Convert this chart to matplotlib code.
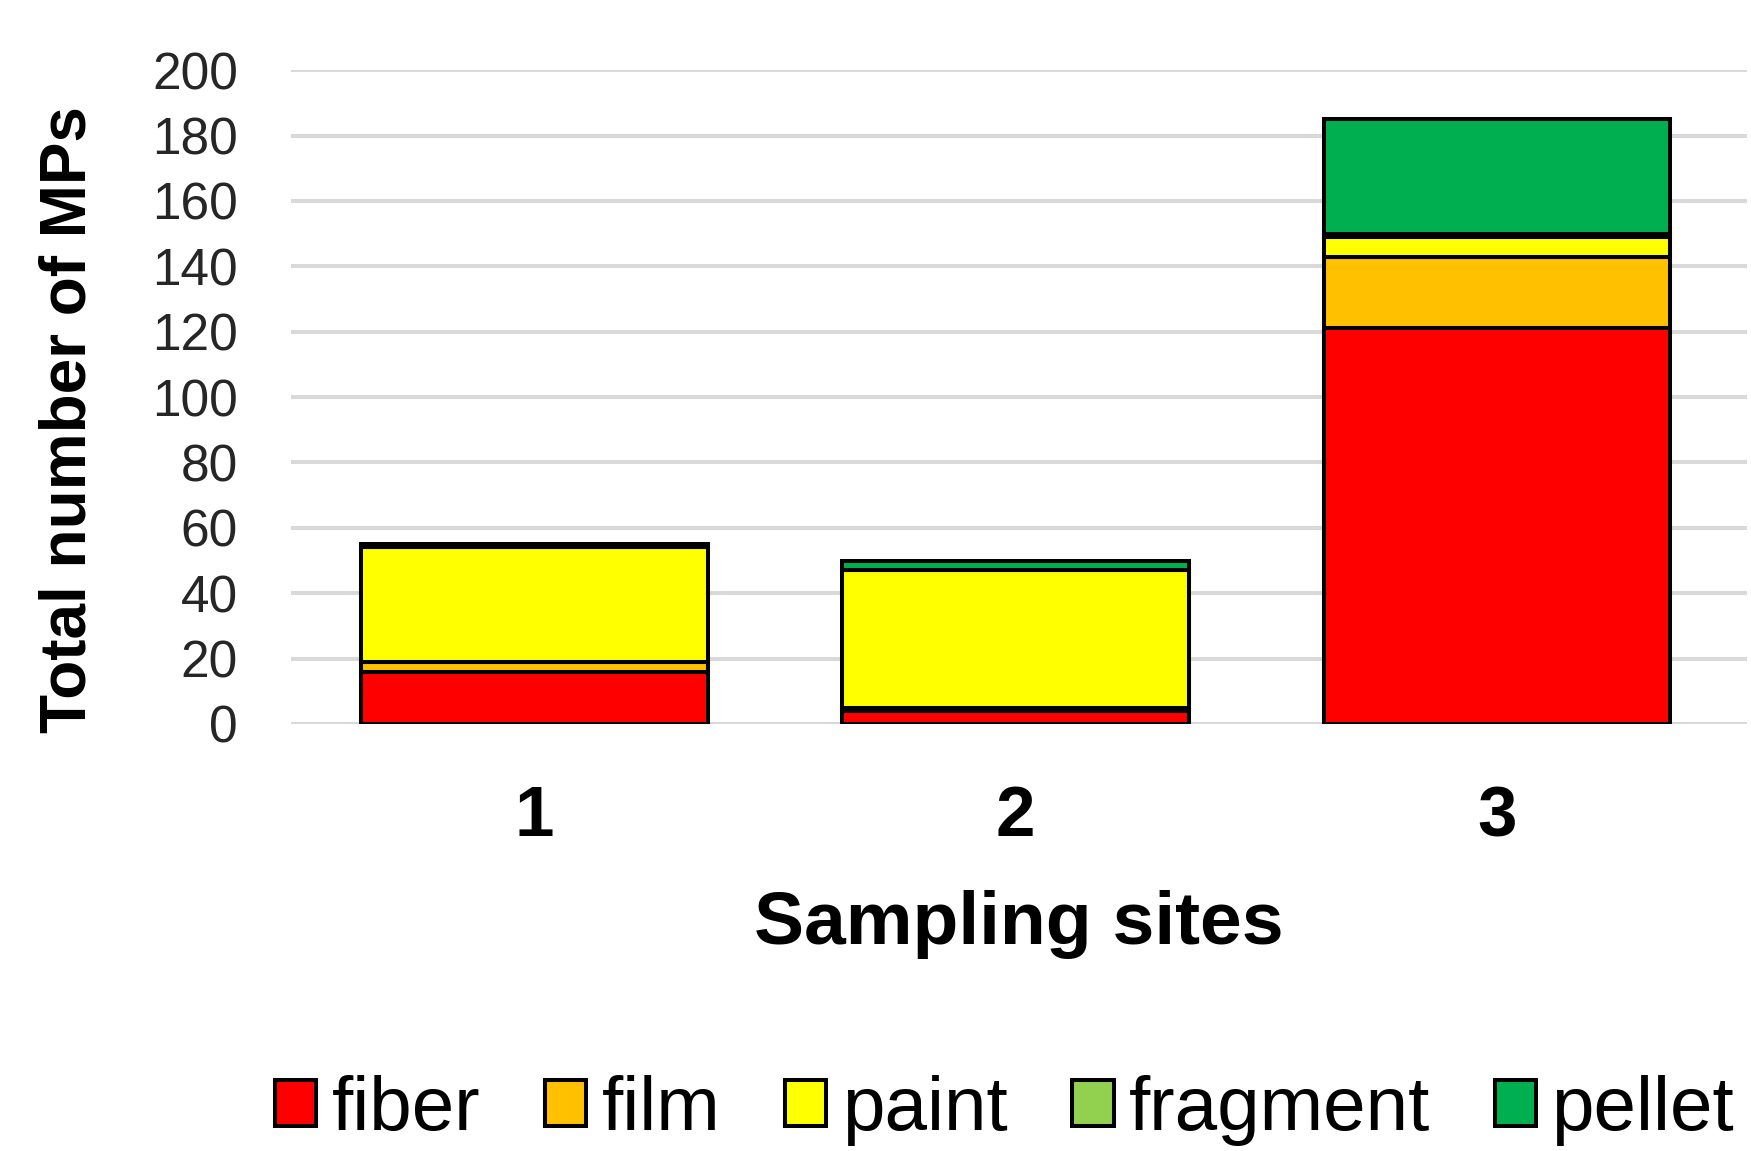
import matplotlib.pyplot as plt
import numpy as np

sites = ['1', '2', '3']
fiber = [16, 4, 121]
film = [3, 1, 22]
paint = [35, 42, 6]
fragment = [0, 0, 1]
pellet = [1, 3, 35]

series = [('fiber', fiber, '#ff0000'),
          ('film', film, '#ffc000'),
          ('paint', paint, '#ffff00'),
          ('fragment', fragment, '#92d050'),
          ('pellet', pellet, '#00b050')]

plt.rcParams['font.family'] = ['Liberation Sans', 'DejaVu Sans']

fig = plt.figure(figsize=(17.51, 11.51), dpi=100)
ax = fig.add_axes([0.166, 0.371, 0.832, 0.568])

x = np.arange(len(sites))
bottom = np.zeros(len(sites))
for name, vals, color in series:
    ax.bar(x, vals, bottom=bottom, width=0.72, color=color,
           edgecolor='black', linewidth=2.9, label=name, zorder=3)
    bottom += np.array(vals)

ax.set_ylim(0, 200)
ax.set_xlim(-0.506, 2.52)
ax.set_yticks(range(0, 201, 20))
ax.set_xticks(x)
ax.set_xticklabels(sites, fontsize=51, fontweight='bold')
ax.tick_params(axis='x', length=0, pad=44)
ax.tick_params(axis='y', length=0, pad=38, labelsize=37, labelcolor='#262626')
ax.grid(axis='y', color='#d9d9d9', linewidth=2.9, zorder=0)
for s in ax.spines.values():
    s.set_visible(False)

ax.set_xlabel('Sampling sites', fontsize=54, fontweight='bold', labelpad=28)
ax.set_ylabel('Total number of MPs', fontsize=46, fontweight='bold')
ax.yaxis.set_label_coords(-0.132, 0.466)

fig.legend(loc='center left', bbox_to_anchor=(0.157, 0.035), ncol=5,
           frameon=False, fontsize=55, handlelength=0.54, handleheight=0.54,
           handletextpad=0.2, columnspacing=0.85, borderaxespad=0, borderpad=0)

plt.savefig('out.png', dpi=100)
plt.close()
